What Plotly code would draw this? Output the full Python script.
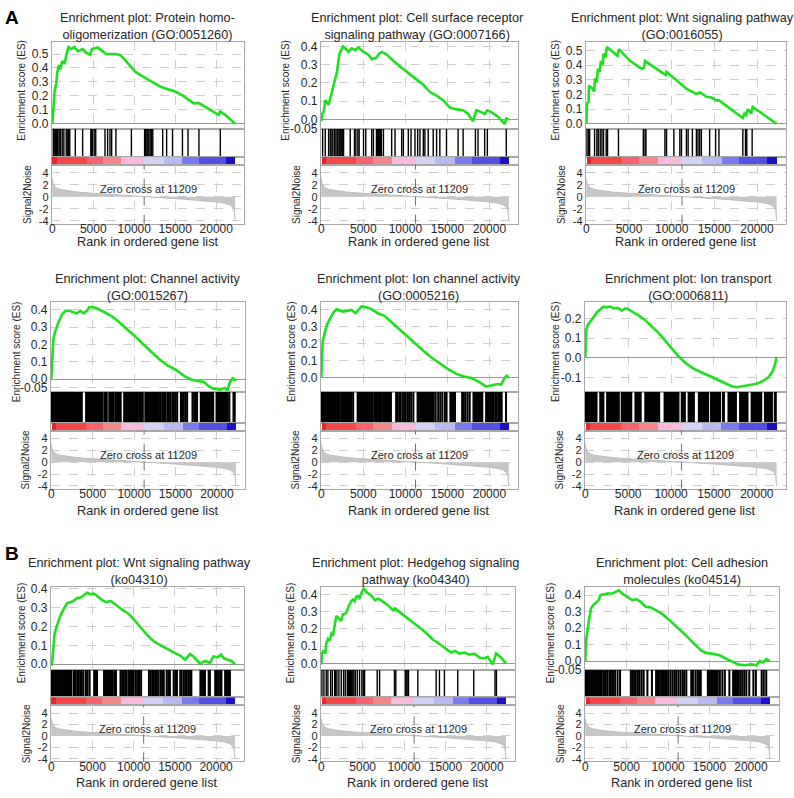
import plotly.graph_objects as go

W, H = 794, 798
FONT = "Liberation Sans, Arial, Helvetica, sans-serif"
TXT = "#262626"
FRAME = "#a8a8a8"
GRID = "#cfcfcf"
ZERO = "#9a9a9a"
GREEN = "#1ee01e"

# ------------------------------------------------------------------ data
N_GENES = 22300
ZERO_CROSS = 11209
X_TICKS = [0, 5000, 10000, 15000, 20000]
X_TICK_TEXT = ["0", "5000", "10000", "15000", "20000"]
S2N_TICKS = [-4, -2, 0, 2, 4]
S2N_TICK_TEXT = ["-4", "-2", "0", "2", "4"]

# ranked list metric (Signal2Noise), shared by every panel
METRIC_RANK = [0, 100, 300, 600, 1000, 2000, 3000, 4000, 5000, 6000, 7000, 8000,
               9000, 10000, 11209, 12000, 13000, 14000, 15000, 16000, 17000, 18000,
               19000, 20000, 21000, 21600, 22000, 22200, 22300]
METRIC_VALUE = [3.0, 2.2, 1.7, 1.4, 1.2, 0.95, 0.8, 0.68, 0.58, 0.48, 0.39, 0.3,
                0.21, 0.11, 0.0, -0.06, -0.14, -0.22, -0.3, -0.39, -0.48, -0.58,
                -0.7, -0.85, -1.05, -1.3, -1.7, -2.4, -4.0]

# ranked list colour band
CB_EDGES = [0, 570, 4150, 6180, 8400, 11200, 13550, 15850, 17850, 21170, 22300]
CB_COLORS = ["#e2262c", "#f24848", "#f4636e", "#f78787", "#f7b9dc",
             "#d2d2f5", "#babaf3", "#7a7af0", "#5252e2", "#1c0fc6"]

TITLES = [
    ("Enrichment plot: Protein homo-", "oligomerization (GO:0051260)"),
    ("Enrichment plot: Cell surface receptor", "signaling pathway (GO:0007166)"),
    ("Enrichment plot: Wnt signaling pathway", "(GO:0016055)"),
    ("Enrichment plot: Channel activity", "(GO:0015267)"),
    ("Enrichment plot: Ion channel activity", "(GO:0005216)"),
    ("Enrichment plot: Ion transport", "(GO:0006811)"),
    ("Enrichment plot: Wnt signaling pathway", "(ko04310)"),
    ("Enrichment plot: Hedgehog signaling", "pathway (ko04340)"),
    ("Enrichment plot: Cell adhesion", "molecules (ko04514)"),
]

P1_ES_X = [0, 80, 160, 280, 485, 600, 810, 970, 1210, 1500, 1700, 1980, 2300, 2700, 3110,
           3720, 4120, 4600, 4850, 5530, 5940, 6540, 7150, 7760, 8360, 9370, 10180, 11190,
           12200, 13210, 14020, 14830, 15840, 16240, 17250, 17860, 18660, 19670, 20280,
           20480, 21090, 22300]
P1_ES_Y = [0.0, 0.075, 0.17, 0.23, 0.29, 0.37, 0.42, 0.39, 0.45, 0.43, 0.49, 0.55, 0.535,
           0.55, 0.52, 0.535, 0.51, 0.495, 0.535, 0.547, 0.53, 0.5, 0.5, 0.5, 0.49, 0.42,
           0.37, 0.335, 0.30, 0.265, 0.25, 0.235, 0.205, 0.19, 0.146, 0.15, 0.12, 0.087,
           0.064, 0.087, 0.064, 0.0]
P1_HITS = [120, 200, 320, 420, 520, 600, 680, 840, 1000, 1210, 1410, 1700, 1890, 1980, 2130,
           2810, 3700, 4700, 4800, 4900, 5110, 5300, 6430, 6750, 7040, 7240, 7760, 9650,
           11260, 11380, 11540, 11660, 11780, 11940, 12100, 12260, 13470, 13950, 14670,
           15880, 16560, 17890, 20500]

P2_ES_X = [0, 80, 280, 470, 670, 870, 1070, 1260, 1460, 1660, 1860, 2050, 2170, 2370, 2570,
           2840, 3240, 3630, 4030, 4420, 5020, 5610, 6000, 6600, 6870, 7190, 7780, 8570,
           9360, 10350, 11140, 12130, 12920, 13700, 14500, 15290, 16080, 16870, 17460,
           18050, 18450, 19040, 19430, 19750, 20220, 21010, 21800, 22000, 22300]
P2_ES_Y = [-0.01, 0.03, 0.04, 0.105, 0.095, 0.08, 0.115, 0.15, 0.18, 0.215, 0.26, 0.325,
           0.36, 0.38, 0.4, 0.39, 0.37, 0.39, 0.38, 0.395, 0.37, 0.355, 0.33, 0.34, 0.36,
           0.37, 0.355, 0.32, 0.29, 0.255, 0.225, 0.19, 0.15, 0.13, 0.105, 0.065, 0.055,
           0.05, 0.03, -0.01, 0.05, 0.04, 0.03, 0.05, 0.04, 0.015, -0.025, 0.005, 0.0]
P2_HITS = [160, 470, 870, 1070, 1260, 1380, 1580, 1740, 1900, 1980, 2130, 2250, 2370, 2530,
           2650, 3440, 3950, 4110, 4350, 4500, 5020, 5290, 6000, 6200, 6560, 6680, 6790,
           6910, 7030, 7150, 7390, 8370, 8770, 9560, 9760, 10350, 10670, 11140, 11460,
           11730, 12130, 12320, 12720, 13310, 13710, 14100, 14890, 16270, 16870, 18330,
           18640, 19430, 19750, 22000]

P3_ES_X = [0, 80, 270, 310, 660, 930, 1010, 1240, 1360, 1550, 1710, 1940, 2020, 2250, 2410,
           2600, 3650, 3810, 5130, 6490, 6760, 6880, 6990, 9010, 9320, 9400, 11150, 11730,
           12900, 13360, 14060, 14650, 15230, 15540, 18340, 18530, 18730, 18920, 19310,
           19500, 22300]
P3_ES_Y = [0.0, 0.14, 0.15, 0.26, 0.245, 0.22, 0.31, 0.285, 0.375, 0.355, 0.43, 0.40, 0.48,
           0.455, 0.525, 0.515, 0.465, 0.51, 0.43, 0.375, 0.385, 0.43, 0.425, 0.345, 0.335,
           0.355, 0.265, 0.24, 0.205, 0.215, 0.185, 0.18, 0.16, 0.16, 0.04, 0.07, 0.06,
           0.1, 0.07, 0.115, 0.0]
P3_HITS = [80, 270, 390, 970, 1240, 1400, 1630, 1830, 2020, 2330, 2490, 3770, 6680, 6880,
           6990, 9210, 9400, 10260, 10960, 11150, 11730, 11930, 12430, 12900, 13090, 13290,
           13480, 14450, 15150, 15540, 18340, 18650, 18800, 19430]

P4_ES_X = [0, 40, 120, 240, 440, 720, 910, 1310, 1710, 2110, 2700, 3100, 3500, 3900, 4290,
           4570, 5090, 5680, 6480, 7270, 8070, 9060, 10060, 11050, 12040, 13040, 14030,
           15030, 16020, 16810, 17610, 18400, 19000, 19600, 20390, 20990, 21270, 21580,
           21900, 22180, 22300]
P4_ES_Y = [0.0, 0.04, 0.18, 0.23, 0.27, 0.31, 0.335, 0.375, 0.395, 0.395, 0.385, 0.38,
           0.395, 0.38, 0.395, 0.415, 0.415, 0.405, 0.385, 0.365, 0.335, 0.295, 0.25,
           0.205, 0.16, 0.115, 0.08, 0.055, 0.02, 0.0, -0.01, -0.015, -0.04, -0.055, -0.06,
           -0.05, -0.065, -0.015, 0.005, -0.005, 0.0]
P4_HITS = [0, 150, 300, 450, 600, 750, 900, 1050, 1200, 1300, 1450, 1600, 1750, 1900, 2050,
           2200, 2350, 2500, 2650, 2800, 2950, 3100, 3250, 3400, 3550, 3680, 4200, 4350,
           4500, 4650, 4800, 4950, 5100, 5250, 5400, 5550, 5700, 5850, 6000, 6150, 6400,
           6550, 6700, 7000, 7150, 7300, 7450, 7550, 7800, 7950, 8100, 8250, 8380, 8800,
           8950, 9100, 9250, 9400, 9600, 9750, 9900, 10100, 10250, 10400, 10600, 10750,
           10900, 11050, 11350, 11500, 11650, 11800, 11950, 12100, 12250, 12400, 12550,
           12700, 12840, 13000, 13200, 13400, 13600, 13750, 14000, 14200, 14350, 14600,
           14800, 15000, 15200, 15650, 15800, 16000, 16200, 16400, 17050, 17250, 17450,
           17600, 18050, 18200, 18350, 18500, 18650, 18800, 18950, 19100, 19250, 19400,
           19550, 19950, 20100, 20250, 20400, 20550, 20700, 20850, 21000, 21150, 21300,
           21500, 22000, 22150]

P5_ES_X = [0, 40, 160, 390, 660, 1060, 1450, 1840, 2230, 2620, 3010, 3600, 4070, 4460,
           4770, 5360, 5940, 6730, 7510, 8290, 9270, 10240, 11220, 12200, 13180, 14150,
           15130, 16110, 17090, 17870, 18650, 19630, 20410, 21000, 21390, 21780, 22050, 22300]
P5_ES_Y = [0.0, 0.1, 0.21, 0.26, 0.31, 0.35, 0.385, 0.405, 0.395, 0.39, 0.395, 0.40, 0.38,
           0.405, 0.42, 0.415, 0.405, 0.38, 0.365, 0.33, 0.285, 0.24, 0.197, 0.155, 0.115,
           0.08, 0.048, 0.02, 0.004, -0.004, -0.023, -0.054, -0.048, -0.039, -0.043,
           -0.004, 0.01, 0.0]
P5_HITS = [80, 230, 380, 530, 680, 830, 980, 1130, 1280, 1430, 1580, 1730, 1880, 2030, 2200,
           2400, 2550, 2700, 2850, 3000, 3150, 3300, 3450, 3580, 3790, 4320, 4470, 4620,
           4770, 4920, 5070, 5220, 5370, 5520, 5670, 5820, 5940, 6100, 6300, 6450, 6600,
           6750, 6900, 7050, 7200, 7400, 7550, 7700, 7850, 8000, 8150, 8280, 8900, 9100,
           9300, 9450, 9700, 9900, 10050, 10300, 10500, 10700, 10950, 11450, 11600, 11750,
           11900, 12050, 12200, 12350, 12500, 12650, 12800, 12950, 13100, 13250, 13370,
           13600, 13900, 14150, 14400, 14700, 14900, 15350, 15550, 15750, 15900, 16750,
           16950, 17150, 17400, 17650, 18100, 18250, 18400, 18550, 18700, 18850, 19000,
           19150, 19600, 19800, 19950, 20150, 20300, 20500, 20700, 20850, 21050, 21250,
           21450, 21970]

P6_ES_X = [0, 40, 120, 270, 580, 970, 1360, 1750, 2130, 2520, 2910, 3300, 3760, 4270, 4660,
           4930, 5430, 6210, 6980, 7760, 8540, 9310, 10090, 10860, 11640, 12610, 13580,
           14550, 15330, 16300, 17070, 17650, 18430, 19210, 19980, 20760, 21340, 21850,
           22120, 22300]
P6_ES_Y = [0.0, 0.092, 0.142, 0.167, 0.183, 0.208, 0.233, 0.25, 0.262, 0.258, 0.262, 0.253,
           0.255, 0.242, 0.253, 0.25, 0.238, 0.217, 0.192, 0.162, 0.128, 0.088, 0.045,
           0.008, -0.025, -0.055, -0.075, -0.095, -0.108, -0.128, -0.145, -0.15, -0.145,
           -0.138, -0.133, -0.117, -0.1, -0.067, -0.033, 0.005]
P6_HITS = [0, 250, 500, 750, 1000, 1250, 1800, 2050, 2600, 2850, 3100, 3350, 3600, 3850,
           4300, 4550, 4800, 5050, 5300, 5900, 6150, 6400, 7050, 7300, 7550, 7800, 8050,
           8300, 8550, 9300, 9550, 9800, 10050, 10300, 10550, 10800, 11300, 11550, 12100,
           12350, 12600, 13300, 13550, 13800, 14050, 14250, 14700, 14950, 15200, 15450,
           15650, 16100, 16750, 17000, 17250, 17500, 18100, 18350, 18600, 18850, 19450,
           19700, 19950, 20200, 20450, 21000, 21250, 21500, 21700, 22150]

P7_ES_X = [0, 120, 240, 400, 600, 850, 1130, 1530, 1930, 2340, 2740, 3140, 3550, 3950, 4350,
           4760, 5160, 5560, 6170, 6650, 7170, 7780, 8580, 9310, 9990, 10800, 11610, 12410,
           13220, 14020, 14830, 15640, 16240, 16850, 17250, 18050, 18660, 19260, 19670,
           20190, 20590, 21000, 21480, 21880, 22300]
P7_ES_Y = [-0.008, 0.017, 0.084, 0.16, 0.194, 0.228, 0.262, 0.296, 0.325, 0.33, 0.338,
           0.352, 0.355, 0.367, 0.38, 0.372, 0.375, 0.363, 0.341, 0.33, 0.336, 0.319, 0.29,
           0.27, 0.24, 0.198, 0.156, 0.122, 0.101, 0.083, 0.063, 0.046, 0.024, 0.054, 0.041,
           0.003, 0.017, 0.007, 0.041, 0.037, 0.051, 0.03, 0.024, 0.017, 0.0]
P7_HITS = [40, 200, 350, 500, 650, 800, 950, 1100, 1250, 1400, 1550, 1700, 1850, 2000, 2150,
           2300, 2450, 2750, 2950, 3150, 3300, 3500, 3700, 3900, 4200, 4400, 4650, 5200,
           5400, 5550, 6400, 6550, 6700, 6850, 7000, 7150, 7300, 7450, 7650, 7850, 8400,
           8600, 8800, 9000, 9150, 9400, 9550, 9700, 9850, 10000, 10250, 10450, 10650,
           10900, 11850, 12050, 12250, 12400, 12600, 12800, 13000, 13250, 13450, 13650,
           14000, 14200, 14400, 14850, 15050, 15250, 15650, 15800, 16050, 16250, 16450,
           16650, 16850, 17000, 18100, 18300, 18500, 18650, 19100, 19250, 19900, 20100,
           20300, 20500, 20650, 21100, 21300, 21450, 21680]

P8_ES_X = [0, 80, 280, 480, 600, 800, 1010, 1210, 1410, 1610, 1810, 2010, 2210, 2410, 2610,
           2810, 3020, 3300, 3620, 3820, 4020, 4220, 4420, 4620, 4900, 5150, 5430, 6030,
           6510, 6830, 7240, 8040, 8640, 8920, 9650, 10450, 11260, 12060, 12860, 13470,
           14070, 14870, 15680, 16160, 16680, 17290, 17890, 18490, 19100, 19700, 20100,
           20700, 21110, 21710, 22300]
P8_ES_Y = [-0.006, 0.057, 0.076, 0.057, 0.114, 0.143, 0.133, 0.171, 0.162, 0.219, 0.276,
           0.267, 0.257, 0.248, 0.286, 0.286, 0.295, 0.333, 0.362, 0.371, 0.362, 0.387,
           0.39, 0.381, 0.415, 0.434, 0.415, 0.396, 0.367, 0.377, 0.367, 0.339, 0.31, 0.32,
           0.291, 0.263, 0.234, 0.202, 0.168, 0.139, 0.12, 0.091, 0.063, 0.072, 0.057,
           0.063, 0.05, 0.057, 0.034, 0.03, 0.038, -0.006, 0.057, 0.034, 0.0]
P8_HITS = [80, 320, 600, 800, 1130, 1330, 1610, 1730, 1890, 2130, 2410, 2690, 2890, 3140,
           3300, 3420, 3540, 3620, 3700, 3820, 3940, 4100, 4340, 4620, 4900, 5070, 5230,
           6750, 7040, 8840, 9000, 10130, 10250, 10370, 10530, 11660, 13870, 14270, 14870,
           16480, 18410, 20980, 21150]

P9_ES_X = [0, 40, 120, 280, 490, 690, 1010, 1300, 1620, 1820, 2230, 2710, 3240, 3650, 4050,
           4460, 5060, 5670, 6200, 6680, 7290, 7900, 8510, 9320, 10130, 10940, 11750, 12560,
           13370, 13970, 14580, 15390, 16200, 17010, 17820, 18430, 19240, 20050, 20660,
           21060, 21470, 21870, 22280]
P9_ES_Y = [0.0, 0.06, 0.134, 0.193, 0.272, 0.321, 0.341, 0.355, 0.37, 0.4, 0.406, 0.41,
           0.41, 0.42, 0.43, 0.41, 0.39, 0.37, 0.375, 0.36, 0.33, 0.325, 0.31, 0.285, 0.25,
           0.215, 0.175, 0.135, 0.095, 0.065, 0.05, 0.045, 0.035, 0.015, -0.005, -0.02,
           -0.025, -0.02, -0.025, 0.0, -0.008, 0.012, 0.0]
P9_HITS = [40, 200, 350, 500, 650, 800, 950, 1100, 1250, 1400, 1550, 1700, 1850, 2000, 2250,
           2450, 2650, 2900, 3100, 3350, 3600, 3900, 4200, 5500, 5700, 5900, 6100, 6350,
           6550, 6800, 7050, 7500, 8050, 8550, 8700, 8850, 9000, 9200, 9350, 9500, 9700,
           9850, 10050, 10300, 10550, 10800, 11000, 11250, 11500, 11750, 11950, 12200,
           12800, 13000, 13300, 13550, 13750, 13950, 14800, 14950, 15100, 15250, 15400,
           15550, 15700, 15850, 16000, 16250, 16550, 16850, 17400, 17850, 18000, 18150,
           18300, 18450, 18700, 18950, 19200, 19450, 19800, 20300, 20600, 21300, 21550, 21850]

ES_X = [P1_ES_X, P2_ES_X, P3_ES_X, P4_ES_X, P5_ES_X, P6_ES_X, P7_ES_X, P8_ES_X, P9_ES_X]
ES_Y = [P1_ES_Y, P2_ES_Y, P3_ES_Y, P4_ES_Y, P5_ES_Y, P6_ES_Y, P7_ES_Y, P8_ES_Y, P9_ES_Y]
HITS = [P1_HITS, P2_HITS, P3_HITS, P4_HITS, P5_HITS, P6_HITS, P7_HITS, P8_HITS, P9_HITS]

ES_TICKS = [
    [0.0, 0.1, 0.2, 0.3, 0.4, 0.5],
    [-0.05, 0.0, 0.1, 0.2, 0.3, 0.4],
    [0.0, 0.1, 0.2, 0.3, 0.4, 0.5],
    [-0.05, 0.0, 0.1, 0.2, 0.3, 0.4],
    [0.0, 0.1, 0.2, 0.3, 0.4],
    [-0.1, 0.0, 0.1, 0.2],
    [0.0, 0.1, 0.2, 0.3, 0.4],
    [0.0, 0.1, 0.2, 0.3, 0.4],
    [-0.05, 0.0, 0.1, 0.2, 0.3, 0.4],
]
ES_TICK_TEXT = [
    ["0.0", "0.1", "0.2", "0.3", "0.4", "0.5"],
    ["-0.05", "0.0", "0.1", "0.2", "0.3", "0.4"],
    ["0.0", "0.1", "0.2", "0.3", "0.4", "0.5"],
    ["-0.05", "0.0", "0.1", "0.2", "0.3", "0.4"],
    ["0.0", "0.1", "0.2", "0.3", "0.4"],
    ["-0.1", "0.0", "0.1", "0.2"],
    ["0.0", "0.1", "0.2", "0.3", "0.4"],
    ["0.0", "0.1", "0.2", "0.3", "0.4"],
    ["-0.05", "0.0", "0.1", "0.2", "0.3", "0.4"],
]

# ------------------------------------------------------------------ layout geometry (px)
ES_RANGES = [[-0.038, 0.583], [-0.053, 0.422], [-0.036, 0.556], [-0.074, 0.443],
             [-0.087, 0.444], [-0.175, 0.283], [-0.03, 0.41], [-0.038, 0.444],
             [-0.053, 0.449]]
S2N_RANGE = [-4.45, 5.35]
X_RANGE = [-60, 23400]
# left, right, top, ES bottom, hits bottom, colour band bottom, bottom
GEOM = [
    (49, 242, 38, 126, 154, 162, 222),
    (319, 517, 38, 126, 154, 162, 222),
    (585, 786, 38, 126, 154, 162, 222),
    (48, 243, 302, 393, 424, 432, 491),
    (319, 517, 302, 393, 424, 432, 491),
    (584, 786, 302, 393, 424, 432, 491),
    (48, 242, 591, 675, 703, 711, 768),
    (319, 514, 591, 675, 703, 711, 768),
    (584, 779, 591, 675, 703, 711, 768),
]
TITLE_Y = [21.5, 286.5, 575]
XTITLE_Y = [241, 514, 790]
TITLE_DX = [0, -2, -3, 0, 0, 3, -8, -2, 0]
HIT_W = [1.4, 1.4, 1.4, 2.0, 2.0, 3.0, 2.0, 1.4, 2.0]
TITLE_SIZE = 12.7


def fx(px):
    return px / W


def fy(py):
    return 1 - py / H


def ref(n, k):
    return k if n == 1 else f"{k}{n}"


def aname(n, k):
    return f"{k}axis" if n == 1 else f"{k}axis{n}"


fig = go.Figure()
lay = {}
annotations = []
shapes = []

frame = dict(showline=True, mirror=True, linecolor=FRAME, linewidth=1, zeroline=False, ticks="")
n = 0
for i in range(9):
    L, R, T, EB, HB, CB, SB = GEOM[i]
    row = i // 3
    xdom = [fx(L), fx(R)]

    # --- enrichment score
    n += 1
    lay[aname(n, "x")] = dict(domain=xdom, range=X_RANGE, anchor=ref(n, "y"), tickvals=X_TICKS,
                              showticklabels=False, showgrid=True, gridcolor=GRID,
                              griddash="dash", **frame)
    f2 = dict(frame)
    f2.update(zeroline=True, zerolinecolor=ZERO, zerolinewidth=1)
    lay[aname(n, "y")] = dict(domain=[fy(EB), fy(T)], range=ES_RANGES[i], anchor=ref(n, "x"),
                              tickvals=ES_TICKS[i], ticktext=ES_TICK_TEXT[i], showgrid=True,
                              gridcolor=GRID, griddash="dash",
                              tickfont=dict(size=12, color=TXT, family=FONT), **f2)
    fig.add_trace(go.Scatter(x=ES_X[i], y=ES_Y[i], mode="lines",
                             line=dict(color=GREEN, width=2.6),
                             xaxis=ref(n, "x"), yaxis=ref(n, "y"), showlegend=False))

    # --- hits
    n += 1
    lay[aname(n, "x")] = dict(domain=xdom, range=X_RANGE, anchor=ref(n, "y"),
                              showticklabels=False, showgrid=False, **frame)
    lay[aname(n, "y")] = dict(domain=[fy(HB), fy(EB)], range=[0, 1], anchor=ref(n, "x"),
                              showticklabels=False, showgrid=False, **frame)
    hx, hy = [], []
    for h in HITS[i]:
        hx += [h, h, None]
        hy += [0, 1, None]
    fig.add_trace(go.Scatter(x=hx, y=hy, mode="lines", line=dict(color="#000000", width=HIT_W[i]),
                             xaxis=ref(n, "x"), yaxis=ref(n, "y"), showlegend=False))

    # --- colour band
    n += 1
    lay[aname(n, "x")] = dict(domain=xdom, range=X_RANGE, anchor=ref(n, "y"),
                              showticklabels=False, showgrid=False, **frame)
    lay[aname(n, "y")] = dict(domain=[fy(CB), fy(HB)], range=[0, 1], anchor=ref(n, "x"),
                              showticklabels=False, showgrid=False, **frame)
    widths = [CB_EDGES[k + 1] - CB_EDGES[k] for k in range(len(CB_COLORS))]
    fig.add_trace(go.Bar(orientation="h", base=CB_EDGES[:-1], x=widths,
                         y=[0.5] * len(widths), width=1,
                         marker=dict(color=CB_COLORS, line=dict(width=0)),
                         xaxis=ref(n, "x"), yaxis=ref(n, "y"), showlegend=False))

    # --- ranked list metric
    n += 1
    lay[aname(n, "x")] = dict(domain=xdom, range=X_RANGE, anchor=ref(n, "y"), tickvals=X_TICKS,
                              ticktext=X_TICK_TEXT, showgrid=True, gridcolor=GRID,
                              griddash="dash", ticklabelstandoff=-6,
                              tickfont=dict(size=12, color=TXT, family=FONT), **frame)
    lay[aname(n, "y")] = dict(domain=[fy(SB), fy(CB)], range=S2N_RANGE, anchor=ref(n, "x"),
                              tickvals=S2N_TICKS, ticktext=S2N_TICK_TEXT, showgrid=True,
                              gridcolor=GRID, griddash="dash",
                              tickfont=dict(size=11, color=TXT, family=FONT), **frame)
    fig.add_trace(go.Scatter(x=METRIC_RANK, y=METRIC_VALUE, mode="lines", fill="tozeroy",
                             fillcolor="#c6c6c6", line=dict(color="#bdbdbd", width=1),
                             xaxis=ref(n, "x"), yaxis=ref(n, "y"), showlegend=False))
    shapes.append(dict(type="line", xref=ref(n, "x"), yref=ref(n, "y") + " domain",
                       x0=ZERO_CROSS, x1=ZERO_CROSS, y0=0, y1=1,
                       line=dict(color="#707070", width=1, dash="dash")))
    annotations.append(dict(xref=ref(n, "x"), yref=ref(n, "y"), x=ZERO_CROSS + 500, y=1.25,
                            text="Zero cross at " + str(ZERO_CROSS), showarrow=False,
                            font=dict(size=11, color=TXT, family=FONT)))

    # --- texts
    cx = (L + R) / 2 + TITLE_DX[i]
    annotations.append(dict(xref="paper", yref="paper", x=fx(cx), y=fy(TITLE_Y[row]),
                            text="<br>".join(TITLES[i]), showarrow=False,
                            xanchor="center", yanchor="middle", align="center",
                            font=dict(size=TITLE_SIZE, color=TXT, family=FONT)))
    es_off = 35 if ES_TICK_TEXT[i][0].startswith("-0.0") else 30
    annotations.append(dict(xref="paper", yref="paper", x=fx(L - es_off), y=fy((T + EB) / 2 + 4),
                            text="Enrichment score (ES)", textangle=-90, showarrow=False,
                            xanchor="center", yanchor="middle",
                            font=dict(size=10, color=TXT, family=FONT)))
    annotations.append(dict(xref="paper", yref="paper", x=fx(L - 25), y=fy((CB + SB) / 2),
                            text="Signal2Noise", textangle=-90, showarrow=False,
                            xanchor="center", yanchor="middle",
                            font=dict(size=10, color=TXT, family=FONT)))
    annotations.append(dict(xref="paper", yref="paper", x=fx((L + R) / 2), y=fy(XTITLE_Y[row]),
                            text="Rank in ordered gene list", showarrow=False,
                            xanchor="center", yanchor="middle",
                            font=dict(size=TITLE_SIZE, color=TXT, family=FONT)))

for letter, (lx, ly) in [("A", (9, 13)), ("B", (9, 557))]:
    annotations.append(dict(xref="paper", yref="paper", x=fx(lx), y=fy(ly),
                            text="<b>" + letter + "</b>",
                            showarrow=False, xanchor="center", yanchor="middle",
                            font=dict(size=19, color="#000000", family=FONT)))

fig.update_layout(width=W, height=H, margin=dict(l=0, r=0, t=0, b=0),
                  paper_bgcolor="white", plot_bgcolor="white", bargap=0,
                  annotations=annotations, shapes=shapes, font=dict(family=FONT, color=TXT),
                  **lay)
fig.write_html("out.html")
